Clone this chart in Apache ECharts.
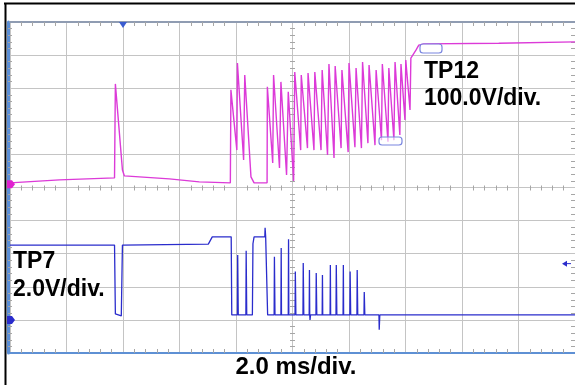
<!DOCTYPE html>
<html>
<head>
<meta charset="utf-8">
<title>TP12 / TP7</title>
<script src="https://cdn.jsdelivr.net/npm/echarts@6.0.0/dist/echarts.min.js"></script>
<style>
  html, body { margin: 0; padding: 0; background: #fff; }
  #myChart { width: 575px; height: 385px; }
</style>
</head>
<body>
<div id="myChart"></div>
<script>
// x: time in ms (2.0 ms/div), y: screen divisions counted from the bottom
const timeRange = [0, 20];
const divRange = [0, 10];

// TP12, 100.0V/div (magenta)
const tp12Data = [
  [0, 5.14], [1.75, 5.23], [3.70, 5.29], [3.73, 8.13], [3.98, 5.53], [4.05, 5.35],
  [5.64, 5.26], [6.70, 5.17], [7.80, 5.14],
  [7.82, 7.95], [8.03, 6.13], [8.05, 8.76], [8.27, 5.83], [8.31, 8.40], [8.53, 5.32],
  [8.64, 5.14], [9.10, 5.14],
  [9.11, 8.04], [9.30, 5.74], [9.33, 8.40], [9.54, 5.59], [9.59, 8.19], [9.79, 5.38],
  [9.85, 7.89], [10.04, 5.20], [10.08, 8.49], [10.29, 6.13], [10.31, 8.40], [10.53, 6.19],
  [10.55, 8.46], [10.76, 6.13], [10.79, 8.49], [11.01, 6.13], [11.05, 8.55], [11.24, 5.98],
  [11.29, 8.73], [11.47, 5.89], [11.51, 8.67], [11.72, 6.19], [11.75, 8.55], [11.97, 6.07],
  [12.00, 8.76], [12.21, 6.22], [12.25, 8.61], [12.44, 6.19], [12.48, 8.79], [12.67, 6.34],
  [12.71, 8.70], [12.92, 6.28], [12.96, 8.55], [13.15, 6.43], [13.18, 8.73], [13.38, 6.38],
  [13.41, 8.61], [13.59, 6.43], [13.63, 8.79], [13.80, 6.59], [13.84, 8.73], [13.98, 7.04],
  [14.01, 8.85], [14.16, 7.34], [14.19, 8.91], [14.37, 9.15], [14.47, 9.30], [14.65, 9.34],
  [17.30, 9.36], [20, 9.40]
];

// TP7, 2.0V/div (blue)
const tp7Data = [
  [0, 3.26], [3.70, 3.26], [3.73, 1.18], [3.77, 1.12], [3.94, 1.12], [3.98, 3.26],
  [7.02, 3.29], [7.16, 3.51], [7.83, 3.51], [7.85, 1.15],
  [8.05, 1.15], [8.06, 2.96], [8.08, 1.15], [8.35, 1.15], [8.36, 3.09], [8.38, 1.15],
  [8.58, 1.15], [8.60, 3.30], [8.64, 3.51], [9.02, 3.51], [9.03, 3.78], [9.05, 3.51],
  [9.10, 3.51], [9.12, 1.15],
  [9.35, 1.15], [9.36, 2.91], [9.38, 1.15], [9.59, 1.15], [9.60, 3.17], [9.61, 1.15],
  [9.85, 1.15], [9.86, 3.44], [9.87, 1.15],
  [10.09, 1.15], [10.10, 2.46], [10.12, 1.15], [10.37, 1.15], [10.38, 2.72], [10.40, 1.15],
  [10.59, 1.15], [10.60, 2.51], [10.61, 1.15], [10.62, 1.00], [10.64, 1.15],
  [10.83, 1.15], [10.84, 2.42], [10.86, 1.15], [11.05, 1.15], [11.06, 2.36], [11.07, 1.15],
  [11.33, 1.15], [11.34, 2.66], [11.35, 1.15], [11.54, 1.15], [11.55, 2.66], [11.57, 1.15],
  [11.79, 1.15], [11.80, 2.66], [11.81, 1.15], [12.03, 1.15], [12.04, 2.46], [12.06, 1.15],
  [12.28, 1.15], [12.29, 2.51], [12.31, 1.15], [12.53, 1.15], [12.54, 1.84], [12.56, 1.15],
  [13.06, 1.15], [13.07, 0.70], [13.09, 1.15], [20, 1.15]
];

// marker levels (ground / trigger)
const tp12Ground = 5.1;
const tp7Ground = 1.0;
const trigLevel = 2.7;
const trigTime = 4.0;

const tp12Label = ["TP12", "100.0V/div."];
const tp7Label = ["TP7", "2.0V/div."];
const timeLabel = "2.0 ms/div.";

const gridColor = "#c4c4c4";
const tickColor = "#a6a6a6";
const font = 'Arial, "Liberation Sans", sans-serif';

function minor(len) {
  return { show: true, splitNumber: 5, length: len, lineStyle: { color: tickColor, width: 1 } };
}

function xAxis(position, offset, line, split, len) {
  return {
    type: "value", min: timeRange[0], max: timeRange[1], interval: 2,
    position: position, offset: offset,
    axisLine: { show: !!line, onZero: false, lineStyle: line || {} },
    axisTick: { show: false, inside: true },
    minorTick: minor(len),
    axisLabel: { show: false },
    splitLine: { show: split, lineStyle: { color: gridColor, width: 1 } }
  };
}

function yAxis(position, offset, line, split, len) {
  return {
    type: "value", min: divRange[0], max: divRange[1], interval: 1,
    position: position, offset: offset,
    axisLine: { show: !!line, onZero: false, lineStyle: line || {} },
    axisTick: { show: false, inside: true },
    minorTick: minor(len),
    axisLabel: { show: false },
    splitLine: { show: split, lineStyle: { color: gridColor, width: 1 } }
  };
}

let myChart = echarts.init(document.getElementById("myChart"));

let option = {
  animation: false,
  backgroundColor: "#fff",
  grid: { left: 10, top: 22, width: 566, height: 331 },
  xAxis: [
    xAxis("bottom", 0, { color: "#5e90d4", width: 2 }, true, 4),
    xAxis("top", 0, { color: "#8f9cb2", width: 2 }, false, 4),
    xAxis("bottom", -162.5, null, false, 5) // centre line ticks
  ],
  yAxis: [
    yAxis("left", 2, { color: "#5a8ed6", width: 3 }, true, 4),
    yAxis("right", 0, null, false, 4),
    yAxis("left", -280, null, false, 5) // centre line ticks
  ],
  series: [
    {
      name: "TP12", type: "line", showSymbol: false, xAxisIndex: 0, yAxisIndex: 0,
      lineStyle: { color: "#dc3ad8", width: 1.4 },
      data: tp12Data
    },
    {
      name: "TP7", type: "line", showSymbol: false, xAxisIndex: 0, yAxisIndex: 0,
      lineStyle: { color: "#2a2ccc", width: 1.3 },
      data: tp7Data
    }
  ]
};
myChart.setOption(option, true);

// scope markers and labels
let px = (t, v) => myChart.convertToPixel({ gridIndex: 0 }, [t, v]);
let g12 = px(0, tp12Ground);
let g7 = px(0, tp7Ground);
let tr = px(trigTime, divRange[1]);
let lv = px(timeRange[1], trigLevel);

function groundMark(y, color) {
  return {
    type: "polygon",
    shape: { points: [[7, y - 4], [12, y - 4], [15, y], [12, y + 4], [7, y + 4]] },
    style: { fill: color }, z: 10
  };
}

function label(text, x, y, align, size) {
  return {
    type: "text", x: x, y: y, z: 10,
    style: {
      text: text, fill: "#000", fontSize: size || 23, fontWeight: "bold", fontFamily: font,
      align: align || "left", verticalAlign: "middle"
    }
  };
}

myChart.setOption({
  graphic: [
    { type: "line", shape: { x1: 4, y1: 3.5, x2: 575, y2: 3.5 }, style: { stroke: "#000", lineWidth: 2 } },
    { type: "line", shape: { x1: 5.5, y1: 3, x2: 5.5, y2: 385 }, style: { stroke: "#000", lineWidth: 2 } },
    {
      type: "polygon", z: 10,
      shape: { points: [[tr[0] - 4, 22], [tr[0] + 4, 22], [tr[0], 28]] },
      style: { fill: "#3a5cd0" }
    },
    groundMark(g12[1], "#e020d0"),
    groundMark(g7[1], "#2a2ccc"),
    {
      type: "polygon", z: 10,
      shape: { points: [[lv[0] - 13, lv[1]], [lv[0] - 8, lv[1] - 3], [lv[0] - 8, lv[1] + 3]] },
      style: { fill: "#2a2ccc" }
    },
    { type: "line", z: 10, shape: { x1: lv[0] - 9, y1: lv[1], x2: lv[0] - 4, y2: lv[1] }, style: { stroke: "#2a2ccc", lineWidth: 1 } },
    { type: "rect", z: 10, shape: { x: 379, y: 137, width: 23, height: 8, r: 3 }, style: { fill: "rgba(255,255,255,0.6)", stroke: "#7a86e0", lineWidth: 1.2 } },
    { type: "rect", z: 10, shape: { x: 420, y: 44, width: 22, height: 9, r: 3 }, style: { fill: "rgba(255,255,255,0.6)", stroke: "#7a86e0", lineWidth: 1.2 } },
    label(tp12Label[0], 424, 72),
    label(tp12Label[1], 424, 99),
    label(tp7Label[0], 13, 262),
    label(tp7Label[1], 13, 290),
    label(timeLabel, 296, 367, "center", 24)
  ]
});
</script>
</body>
</html>
